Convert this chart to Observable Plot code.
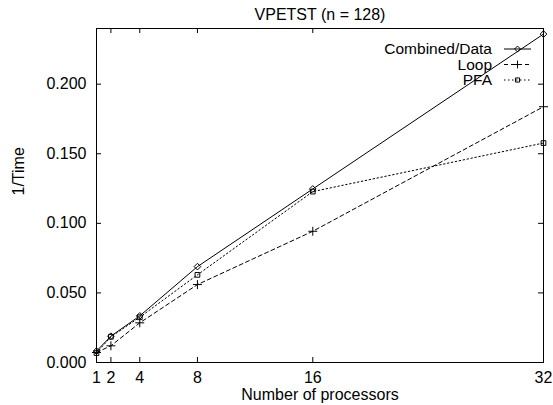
<!DOCTYPE html>
<html>
<head>
<meta charset="utf-8">
<script src="https://cdn.jsdelivr.net/npm/d3@7"></script>
<script src="https://cdn.jsdelivr.net/npm/@observablehq/plot@0.6"></script>
<style>
  html, body { margin: 0; padding: 0; background: white; }
</style>
</head>
<body>
<div id="chart"></div>
<script>
const processors = [1, 2, 4, 8, 16, 32];
const combinedValues = [0.0082, 0.0189, 0.0335, 0.0689, 0.1247, 0.2360];
const loopValues     = [0.0072, 0.0120, 0.0285, 0.0560, 0.0943, 0.1838];
const pfaValues      = [0.0068, 0.0185, 0.0325, 0.0630, 0.1228, 0.1577];
const seriesNames = ["Combined/Data", "Loop", "PFA"];
const xTicks = [1, 2, 4, 8, 16, 32];
const yTicks = [0, 0.05, 0.10, 0.15, 0.20];
const titleText = "VPETST (n = 128)";
const xLabel = "Number of processors";
const yLabel = "1/Time";

const valuesBySeries = [combinedValues, loopValues, pfaValues];
const styles = [
  {dash: null, symbol: "diamond2"},
  {dash: "4,3", symbol: "plus"},
  {dash: "1.5,2.5", symbol: "square2"}
];
const rows = (i) => processors.map((p, j) => ({p, v: valuesBySeries[i][j]}));

const W = 553, H = 405, mL = 96, mR = 10, mT = 28, mB = 43;
const fw = W - mL - mR, fh = H - mT - mB, tick = 5;
const font = "'Liberation Sans', Arial, Helvetica, sans-serif";
const fs = 16;

const marks = [
  Plot.frame({stroke: "black", strokeWidth: 1}),
  Plot.ruleX(xTicks, {x: d => d, insetTop: fh - tick, stroke: "black"}),
  Plot.ruleX(xTicks, {x: d => d, insetBottom: fh - tick, stroke: "black"}),
  Plot.ruleY(yTicks, {y: d => d, insetRight: fw - tick, stroke: "black"}),
  Plot.ruleY(yTicks, {y: d => d, insetLeft: fw - tick, stroke: "black"}),
  Plot.axisX(xTicks, {tickSize: 0, tickPadding: 9, label: null, fontSize: fs}),
  Plot.axisY(yTicks, {tickSize: 0, tickPadding: 10, label: null, tickFormat: d => d.toFixed(3), fontSize: fs}),
  Plot.text([titleText], {frameAnchor: "top", dy: -14, lineAnchor: "middle", fontSize: fs}),
  Plot.text([xLabel], {frameAnchor: "bottom", dy: 32, lineAnchor: "middle", fontSize: fs}),
  Plot.text([yLabel], {frameAnchor: "left", dx: -78, rotate: -90, lineAnchor: "middle", fontSize: fs})
];
for (let i = 0; i < 3; i++) {
  marks.push(Plot.line(rows(i), {x: "p", y: "v", stroke: "black", strokeWidth: 1, strokeDasharray: styles[i].dash}));
  marks.push(Plot.dot(rows(i), {x: "p", y: "v", symbol: styles[i].symbol, r: 3, stroke: "black", strokeWidth: 1, fill: "none"}));
}

const plot = Plot.plot({
  width: W, height: H,
  marginLeft: mL, marginRight: mR, marginTop: mT, marginBottom: mB,
  x: {type: "linear", domain: [1, 32]},
  y: {type: "linear", domain: [0, 0.24]},
  style: {fontFamily: font, fontSize: fs + "px", background: "white", color: "black"},
  marks
});
document.getElementById("chart").appendChild(plot);

// Legend (upper right, gnuplot style)
const svg = d3.select(plot);
const g = svg.append("g");
const legendRows = [49, 64.5, 80];
const textRight = 492, lx1 = 504, lx2 = 531, lmx = 517.5;
const symbolGen = {diamond2: d3.symbolDiamond2, plus: d3.symbolPlus, square2: d3.symbolSquare2};
seriesNames.forEach((name, i) => {
  const y = legendRows[i];
  g.append("text").attr("x", textRight).attr("y", y).attr("dy", "0.35em")
    .attr("text-anchor", "end").attr("font-family", font).attr("font-size", 15.5).attr("fill", "black").text(name);
  g.append("line").attr("x1", lx1).attr("x2", lx2).attr("y1", y).attr("y2", y)
    .attr("stroke", "black").attr("stroke-dasharray", styles[i].dash);
  g.append("path").attr("transform", `translate(${lmx},${y})`)
    .attr("d", d3.symbol(symbolGen[styles[i].symbol], Math.PI * 7)())
    .attr("fill", "none").attr("stroke", "black");
});
</script>
</body>
</html>
